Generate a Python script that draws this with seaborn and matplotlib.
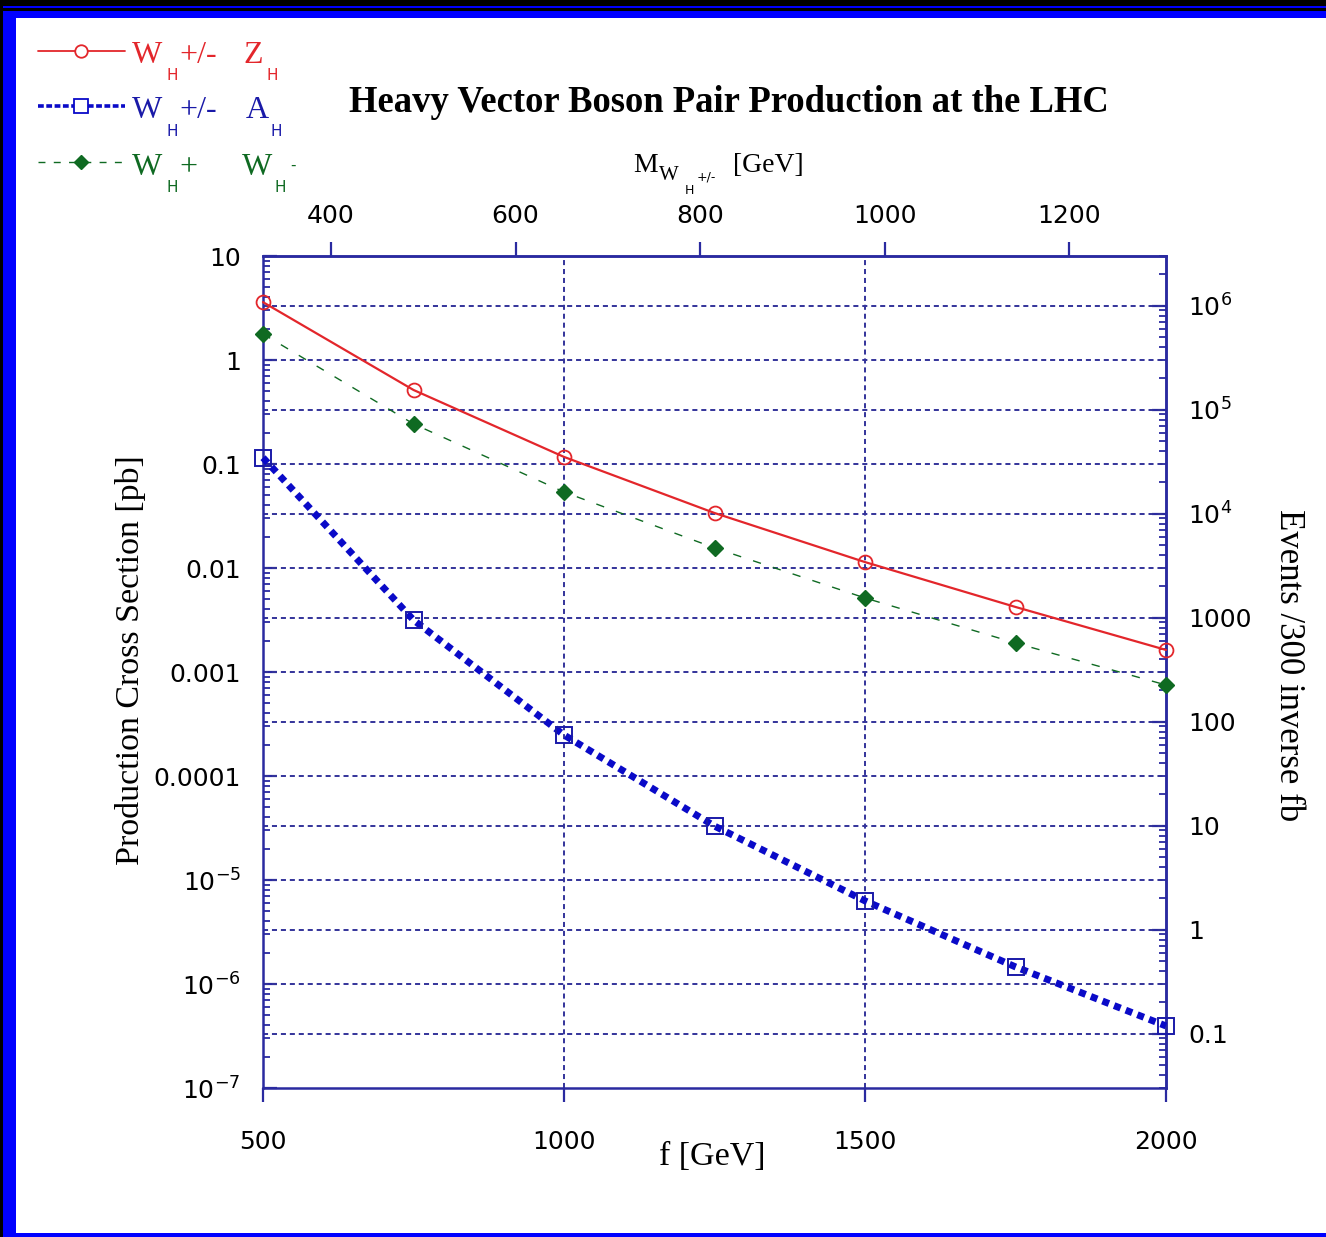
import numpy as np
import pandas as pd
import matplotlib
matplotlib.use("Agg")
import matplotlib.pyplot as plt
import seaborn as sns
from matplotlib.lines import Line2D
from matplotlib.patches import Rectangle
from matplotlib.ticker import FixedLocator, FixedFormatter, LogLocator, NullFormatter

# ---------------- data ----------------
f_gev = [500, 750, 1000, 1250, 1500, 1750, 2000]
sigma_wz = [3.6, 0.515, 0.117, 0.0338, 0.0114, 0.00422, 0.00163]      # W_H+/- Z_H
sigma_wa = [0.115, 0.00316, 2.48e-4, 3.3e-5, 6.3e-6, 1.46e-6, 3.95e-7]  # W_H+/- A_H
sigma_ww = [1.78, 0.243, 0.0538, 0.0156, 0.00515, 0.0019, 0.00075]    # W_H+ W_H-

left_ticks = [1e-7, 1e-6, 1e-5, 1e-4, 1e-3, 1e-2, 1e-1, 1, 10]
left_labels = [r"$\mathregular{10^{-7}}$", r"$\mathregular{10^{-6}}$", r"$\mathregular{10^{-5}}$",
               "0.0001", "0.001", "0.01", "0.1", "1", "10"]
right_ticks = [0.1, 1, 10, 100, 1000, 1e4, 1e5, 1e6]
right_labels = ["0.1", "1", "10", "100", "1000", r"$\mathregular{10^{4}}$",
                r"$\mathregular{10^{5}}$", r"$\mathregular{10^{6}}$"]
bottom_ticks = [500, 1000, 1500, 2000]
bottom_labels = ["500", "1000", "1500", "2000"]
top_ticks = [400, 600, 800, 1000, 1200]
top_labels = ["400", "600", "800", "1000", "1200"]

MASS_PER_F = 0.6525      # M_WH = 0.6525 f
EVENTS_PER_PB = 3.0e5    # 300 fb^-1

# ---------------- style ----------------
sns.set_style("white")
plt.rcParams["font.family"] = ["DejaVu Sans"]
plt.rcParams["text.color"] = "black"
plt.rcParams["axes.labelcolor"] = "black"
plt.rcParams["xtick.labelcolor"] = "black"
plt.rcParams["ytick.labelcolor"] = "black"
SERIF = "Liberation Serif"
NAVY = "#2a2aa0"
GRID = "#33339a"
RED = "#e3262b"
BLUE = "#0a0ac8"
BLUE_EDGE = "#1a1aa8"
GREEN = "#0f6a22"

W, H = 1326, 1237
fig = plt.figure(figsize=(W / 100, H / 100), dpi=100)
fig.patch.set_facecolor("black")


def fx(x):
    return x / W


def fy(y):
    return 1 - y / H


def rect_px(x0, y0, x1, y1, color, z):
    fig.add_artist(Rectangle((fx(x0), fy(y1)), fx(x1) - fx(x0), fy(y0) - fy(y1),
                             transform=fig.transFigure, facecolor=color,
                             edgecolor="none", zorder=z))


# frame
rect_px(3, 6, W, 8, "#0000ff", -30)
rect_px(3, 11, W, H, "#0000ff", -30)
rect_px(16, 18, W, 1233, "white", -29)

# ---------------- axes ----------------
ax_left, ax_right, ax_top, ax_bottom = 263, 1166, 256, 1088
ax = fig.add_axes([fx(ax_left), fy(ax_bottom), fx(ax_right) - fx(ax_left), fy(ax_top) - fy(ax_bottom)])
ax.set_facecolor("none")
ax.set_yscale("log")
ax.set_xlim(500, 2000)
ax.set_ylim(1e-7, 10)

grid_kw = dict(color=GRID, lw=1.4, linestyle=(0, (2.6, 2.0)), zorder=1)
for xv in bottom_ticks[1:-1]:
    ax.axvline(xv, **grid_kw)
for yv in left_ticks[1:-1]:
    ax.axhline(yv, **grid_kw)
for ev in right_ticks:
    ax.axhline(ev / EVENTS_PER_PB, **grid_kw)

df = pd.DataFrame({"f": f_gev, "wz": sigma_wz, "wa": sigma_wa, "ww": sigma_ww})

# W_H Z_H : red solid with open circles
sns.lineplot(data=df, x="f", y="wz", ax=ax, color=RED, lw=1.6, marker="o", ms=10,
             mfc="none", mec=RED, mew=1.3, zorder=7, clip_on=False)
# W_H W_H : green dashed with filled diamonds
sns.lineplot(data=df, x="f", y="ww", ax=ax, color=GREEN, lw=1.0, linestyle=(0, (6, 9)),
             marker="D", ms=8.5, mfc=GREEN, mec=GREEN, mew=1.0, zorder=7, clip_on=False)
# W_H A_H : dense blue squares
sns.lineplot(data=df, x="f", y="wa", ax=ax, color=BLUE, lw=5.0, linestyle=(0, (1.0, 0.8)),
             dash_capstyle="butt", zorder=7, clip_on=False)
sns.lineplot(data=df, x="f", y="wa", ax=ax, color=BLUE_EDGE, lw=0, marker="s", ms=11,
             mfc="none", mec=BLUE_EDGE, mew=1.4, zorder=8, clip_on=False)

for sp in ax.spines.values():
    sp.set_color(NAVY)
    sp.set_linewidth(1.8)
    sp.set_zorder(6)

ax.yaxis.set_major_locator(FixedLocator(left_ticks))
ax.yaxis.set_major_formatter(FixedFormatter(left_labels))
ax.yaxis.set_minor_locator(LogLocator(base=10, subs=np.arange(2, 10), numticks=20))
ax.yaxis.set_minor_formatter(NullFormatter())
ax.xaxis.set_major_locator(FixedLocator(bottom_ticks))
ax.xaxis.set_major_formatter(FixedFormatter(bottom_labels))

ax.tick_params(axis="y", which="major", direction="in", length=10, width=1.6, color=NAVY,
               left=True, right=False, labelsize=18, pad=16)
ax.tick_params(axis="y", which="minor", direction="in", length=5, width=1.3, color=NAVY,
               left=True, right=False)
ax.tick_params(axis="x", which="major", direction="out", length=10, width=1.6, color=NAVY,
               bottom=True, top=False, labelsize=18, pad=20)
ax.tick_params(axis="x", which="minor", bottom=False, top=False)

# right axis: events / 300 fb^-1
sec_y = ax.secondary_yaxis("right", functions=(lambda s: s * EVENTS_PER_PB, lambda e: e / EVENTS_PER_PB))
sec_y.yaxis.set_major_locator(FixedLocator(right_ticks))
sec_y.yaxis.set_major_formatter(FixedFormatter(right_labels))
sec_y.yaxis.set_minor_locator(LogLocator(base=10, subs=np.arange(2, 10), numticks=20))
sec_y.yaxis.set_minor_formatter(NullFormatter())
sec_y.tick_params(axis="y", which="major", direction="in", length=10, width=1.6, color=NAVY,
                  labelsize=18, pad=16)
sec_y.tick_params(axis="y", which="minor", direction="in", length=5, width=1.3, color=NAVY)
sec_y.spines["right"].set_color(NAVY)
sec_y.spines["right"].set_linewidth(1.8)

# top axis: heavy W mass
sec_x = ax.secondary_xaxis("top", functions=(lambda f: f * MASS_PER_F, lambda m: m / MASS_PER_F))
sec_x.xaxis.set_major_locator(FixedLocator(top_ticks))
sec_x.xaxis.set_major_formatter(FixedFormatter(top_labels))
sec_x.tick_params(axis="x", which="major", direction="out", length=10, width=1.6, color=NAVY,
                  labelsize=18, pad=10)
sec_x.tick_params(axis="x", which="minor", top=False)
sec_x.spines["top"].set_color(NAVY)
sec_x.spines["top"].set_linewidth(1.8)

# axis labels
ax.set_ylabel("Production Cross Section [pb]", family=SERIF, fontsize=24.5)
ax.yaxis.set_label_coords((130 - ax_left) / (ax_right - ax_left), (ax_bottom - 660) / (ax_bottom - ax_top))
ax.yaxis.label.set_va("center")
ax.set_xlabel("f [GeV]", family=SERIF, fontsize=24.5)
ax.xaxis.set_label_coords((712 - ax_left) / (ax_right - ax_left), -(1157 - ax_bottom) / (ax_bottom - ax_top))
ax.xaxis.label.set_va("center")


def text_px(x, y, s, **kw):
    kw.setdefault("va", "baseline")
    kw.setdefault("ha", "left")
    fig.text(fx(x), fy(y), s, transform=fig.transFigure, **kw)


text_px(1288, 665, "Events /300 inverse fb", family=SERIF, fontsize=25, rotation=270,
        ha="center", va="center", rotation_mode="anchor")

# top axis label  M_{W_H +/-} [GeV]
text_px(633, 172, "M", family=SERIF, fontsize=20)
text_px(659, 180, "W", family=SERIF, fontsize=15)
text_px(685, 194, "H", fontsize=9)
text_px(697, 181, "+/-", fontsize=9)
text_px(733, 172, "[GeV]", family=SERIF, fontsize=20)

# title
text_px(729, 103, "Heavy Vector Boson Pair Production at the LHC", family=SERIF,
        fontsize=26.4, fontweight="bold", ha="center", va="center")

# ---------------- legend ----------------
def legend_line(y, color, lw, ls, marker, ms, mfc, mew, xm=81):
    fig.add_artist(Line2D([fx(38), fx(125)], [fy(y), fy(y)], transform=fig.transFigure,
                          color=color, lw=lw, linestyle=ls))
    fig.add_artist(Line2D([fx(xm)], [fy(y)], transform=fig.transFigure, color=color, lw=0,
                          marker=marker, ms=ms, mfc=mfc, mec=color, mew=mew))


legend_line(51, RED, 1.3, "-", "o", 9, "white", 1.3)
legend_line(106, BLUE, 2.6, (0, (1.6, 0.7)), "s", 10, "white", 1.3)
legend_line(162, GREEN, 1.0, (0, (5, 6)), "D", 7, GREEN, 1.0)

LEG_FS = 23
SUB_FS = 11
# row 1
text_px(132, 63, "W", color=RED, family=SERIF, fontsize=LEG_FS)
text_px(166, 80, "H", color=RED, fontsize=SUB_FS)
text_px(179, 63, "+/-", color=RED, family=SERIF, fontsize=LEG_FS)
text_px(243, 63, "Z", color=RED, family=SERIF, fontsize=LEG_FS)
text_px(267, 80, "H", color=RED, fontsize=SUB_FS)
# row 2
text_px(132, 118, "W", color=BLUE_EDGE, family=SERIF, fontsize=LEG_FS)
text_px(166, 136, "H", color=BLUE_EDGE, fontsize=SUB_FS)
text_px(179, 118, "+/-", color=BLUE_EDGE, family=SERIF, fontsize=LEG_FS)
text_px(246, 118, "A", color=BLUE_EDGE, family=SERIF, fontsize=LEG_FS)
text_px(270, 136, "H", color=BLUE_EDGE, fontsize=SUB_FS)
# row 3
text_px(132, 175, "W", color=GREEN, family=SERIF, fontsize=LEG_FS)
text_px(166, 192, "H", color=GREEN, fontsize=SUB_FS)
text_px(179, 175, "+", color=GREEN, family=SERIF, fontsize=LEG_FS)
text_px(242, 175, "W", color=GREEN, family=SERIF, fontsize=LEG_FS)
text_px(274, 192, "H", color=GREEN, fontsize=SUB_FS)
text_px(290, 170, "-", color=GREEN, fontsize=SUB_FS)

fig.savefig("out.png", dpi=100, facecolor=fig.get_facecolor())
